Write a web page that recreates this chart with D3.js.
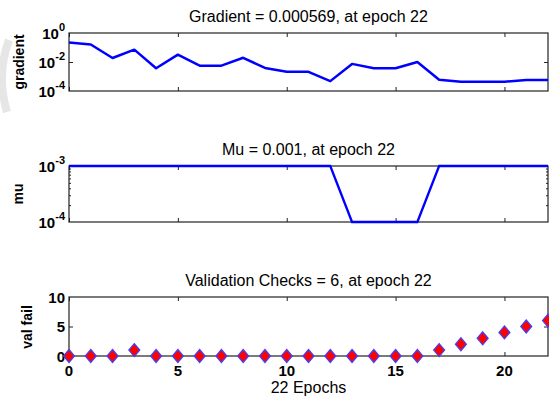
<!DOCTYPE html>
<html>
<head>
<meta charset="utf-8">
<script src="https://cdn.jsdelivr.net/npm/d3@7"></script>
<style>
  body { margin: 0; background: #fff; }
  svg { display: block; font-family: "Liberation Sans", Arial, sans-serif; }
  .title { font-size: 16px; fill: #000; }
  .tick-label { font-size: 15px; font-weight: bold; fill: #000; }
  .ylabel { font-size: 14px; font-weight: bold; fill: #000; }
  .frame { fill: none; stroke: #222; stroke-width: 1.2; }
</style>
</head>
<body>
<svg id="chart" width="549" height="399"></svg>
<script>
// training record
var epochs = [0, 1, 2, 3, 4, 5, 6, 7, 8, 9, 10, 11, 12, 13, 14, 15, 16, 17, 18, 19, 20, 21, 22];
var gradient = [0.22, 0.16, 0.019, 0.071, 0.0037, 0.032, 0.0056, 0.0056, 0.0196, 0.0039, 0.0021, 0.0021,
                0.00048, 0.0074, 0.0037, 0.0037, 0.010, 0.00059, 0.00043, 0.00043, 0.00043, 0.000569, 0.000569];
var mu = [0.001, 0.001, 0.001, 0.001, 0.001, 0.001, 0.001, 0.001, 0.001, 0.001, 0.001, 0.001, 0.001,
          0.0001, 0.0001, 0.0001, 0.0001, 0.001, 0.001, 0.001, 0.001, 0.001, 0.001];
var valFail = [0, 0, 0, 1, 0, 0, 0, 0, 0, 0, 0, 0, 0, 0, 0, 0, 0, 1, 2, 3, 4, 5, 6];
var xTicks = [0, 5, 10, 15, 20];
var gradTicks = [{v: 1, e: "0"}, {v: 1e-2, e: "-2"}, {v: 1e-4, e: "-4"}];
var muTicks = [{v: 1e-3, e: "-3"}, {v: 1e-4, e: "-4"}];
var muMinor = [2e-4, 3e-4, 4e-4, 5e-4, 6e-4, 7e-4, 8e-4, 9e-4];
var valTicks = [0, 5, 10];
var titles = ["Gradient = 0.000569, at epoch 22", "Mu = 0.001, at epoch 22", "Validation Checks = 6, at epoch 22"];

var svg = d3.select("#chart");
var left = 69, right = 548;

var x = d3.scaleLinear().domain([0, 22]).range([left, right]);
var yGrad = d3.scaleLog().domain([1e-4, 1]).range([91, 33]);
var yMu = d3.scaleLog().domain([1e-4, 1e-3]).range([222, 166]);
var yVal = d3.scaleLinear().domain([0, 10]).range([356, 297]);

// faint grey arc at the left edge of the screenshot
svg.append("path")
  .attr("d", "M9,40 Q-4,75 7,112")
  .attr("fill", "none")
  .attr("stroke", "#e6e6e6")
  .attr("stroke-width", 8);

function panel(y, title) {
  var top = y.range()[1], bottom = y.range()[0];

  svg.append("text")
    .attr("class", "title")
    .attr("x", (left + right) / 2)
    .attr("y", top - 11)
    .attr("text-anchor", "middle")
    .text(title);

  // inward x ticks on top and bottom
  svg.append("g")
    .attr("transform", "translate(0," + bottom + ")")
    .call(d3.axisBottom(x).tickValues(xTicks).tickSizeInner(-4).tickSizeOuter(0).tickFormat(""))
    .call(function(g) { g.select(".domain").remove(); g.selectAll("line").attr("stroke", "#222"); });
  svg.append("g")
    .attr("transform", "translate(0," + top + ")")
    .call(d3.axisTop(x).tickValues(xTicks).tickSizeInner(-4).tickSizeOuter(0).tickFormat(""))
    .call(function(g) { g.select(".domain").remove(); g.selectAll("line").attr("stroke", "#222"); });

  svg.append("rect")
    .attr("class", "frame")
    .attr("x", left).attr("y", top)
    .attr("width", right - left).attr("height", bottom - top);
}

function yTicks(y, values, size) {
  svg.append("g")
    .attr("transform", "translate(" + left + ",0)")
    .call(d3.axisLeft(y).tickValues(values).tickSizeInner(-size).tickSizeOuter(0).tickFormat(""))
    .call(function(g) { g.select(".domain").remove(); g.selectAll("line").attr("stroke", "#222"); });
  svg.append("g")
    .attr("transform", "translate(" + right + ",0)")
    .call(d3.axisRight(y).tickValues(values).tickSizeInner(-size).tickSizeOuter(0).tickFormat(""))
    .call(function(g) { g.select(".domain").remove(); g.selectAll("line").attr("stroke", "#222"); });
}

function powLabels(y, ticks) {
  ticks.forEach(function(t) {
    var txt = svg.append("text")
      .attr("class", "tick-label")
      .attr("x", left - 4)
      .attr("y", y(t.v) + 6)
      .attr("text-anchor", "end");
    txt.append("tspan").text("10");
    txt.append("tspan").attr("dy", -8).attr("font-size", "11px").text(t.e);
  });
}

function yLabel(text, cx, cy) {
  svg.append("text")
    .attr("class", "ylabel")
    .attr("transform", "translate(" + cx + "," + cy + ") rotate(-90)")
    .attr("text-anchor", "middle")
    .attr("dy", "0.35em")
    .text(text);
}

// gradient
panel(yGrad, titles[0]);
yTicks(yGrad, [1e-2], 4);
powLabels(yGrad, gradTicks);
yLabel("gradient", 19, 62);
svg.append("path")
  .datum(epochs)
  .attr("fill", "none")
  .attr("stroke", "#0000ff")
  .attr("stroke-width", 2.5)
  .attr("stroke-linejoin", "round")
  .attr("d", d3.line().x(function(d) { return x(d); }).y(function(d, i) { return yGrad(gradient[i]); }));

// mu
panel(yMu, titles[1]);
yTicks(yMu, muMinor, 2);
powLabels(yMu, muTicks);
yLabel("mu", 18, 194);
svg.append("path")
  .datum(epochs)
  .attr("fill", "none")
  .attr("stroke", "#0000ff")
  .attr("stroke-width", 2.3)
  .attr("d", d3.line().x(function(d) { return x(d); }).y(function(d, i) { return yMu(mu[i]); }));

// validation checks
panel(yVal, titles[2]);
yTicks(yVal, [5], 4);
valTicks.forEach(function(v) {
  svg.append("text")
    .attr("class", "tick-label")
    .attr("x", left - 4)
    .attr("y", yVal(v) + 5.5)
    .attr("text-anchor", "end")
    .text(v);
});
xTicks.forEach(function(v) {
  svg.append("text")
    .attr("class", "tick-label")
    .attr("x", x(v))
    .attr("y", 376)
    .attr("text-anchor", "middle")
    .text(v);
});
yLabel("val fail", 27, 327);
svg.append("text")
  .attr("class", "title")
  .attr("x", (left + right) / 2)
  .attr("y", 393)
  .attr("text-anchor", "middle")
  .text("22 Epochs");

svg.selectAll(".marker")
  .data(epochs)
  .enter().append("path")
  .attr("class", "marker")
  .attr("transform", function(d, i) { return "translate(" + x(d) + "," + yVal(valFail[i]) + ")"; })
  .attr("d", "M0,-6.5 L5.5,0 L0,6.5 L-5.5,0 Z")
  .attr("fill", "#ff0000")
  .attr("stroke", "#4040ff")
  .attr("stroke-width", 1.2);
</script>
</body>
</html>
